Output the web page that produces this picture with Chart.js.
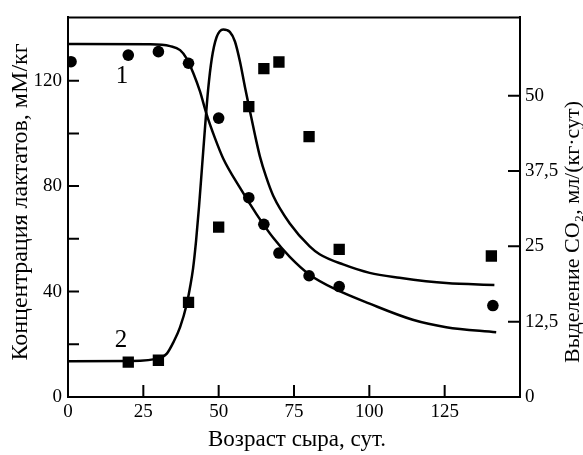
<!DOCTYPE html>
<html><head><meta charset="utf-8">
<script src="https://cdn.jsdelivr.net/npm/chart.js@4"></script>
<style>html,body{margin:0;padding:0;background:#fff}#c{display:block}</style>
</head><body>
<canvas id="c" width="583" height="455"></canvas>
<script>
// Measured points
const lactateDays   = [1, 20, 30, 40, 50, 60, 65, 70, 80, 90, 141];
const lactateValues = [127.2, 129.7, 131, 126.6, 105.8, 75.6, 65.5, 54.6, 46, 41.9, 34.7];
const co2Days   = [20, 30, 40, 50, 60, 65, 70, 80, 90, 140.5];
const co2Values = [5.8, 6.1, 15.7, 28.2, 48.2, 54.5, 55.6, 43.2, 24.5, 23.4];
// Fitted curve 1 (lactate)
const lactateFitDays   = [0, 27.3, 33.9, 37.2, 39.4, 41.6, 43.8, 46.0, 48.8, 51.5, 57.1, 62.6, 68.1, 73.6, 80.2, 89.1, 100.1, 114.4, 125.5, 142.1];
const lactateFitValues = [133.9, 133.8, 133.1, 131.6, 128.4, 122.8, 115.9, 107.2, 98.1, 90.5, 79.3, 69.3, 60.4, 53.2, 46.4, 40.7, 35.4, 29.3, 26.5, 24.6];
// Fitted curve 2 (CO2)
const co2FitDays   = [0, 20.6, 30.6, 32.8, 35.0, 37.2, 39.4, 40.5, 41.5, 42.5, 43.5, 44.5, 45.5, 46.5, 47.7, 49.3, 51.5, 53.7, 55.4, 57.1, 58.7, 60.4, 62.0, 63.7, 65.7, 68.1, 73.6, 80.2, 83.5, 91.3, 100.1, 110.0, 125.5, 141.5];
const co2FitValues = [5.95, 5.98, 6.5, 7.2, 9.1, 11.6, 15.4, 18.2, 21.3, 25.9, 31.7, 38.3, 44.9, 51.0, 56.1, 59.7, 61.0, 60.6, 59.0, 55.6, 51.5, 47.4, 43.6, 39.9, 36.6, 33.4, 28.8, 25.0, 23.7, 22.0, 20.6, 19.8, 18.9, 18.6];
// Ticks
const xTicks = [0, 25, 50, 75, 100, 125];
const leftTicks = [0, 20, 40, 60, 80, 100, 120];
const leftLabels = [0, 40, 80, 120];
const rightTicks = [0, 12.5, 25, 37.5, 50];

const toXY = (xs, ys) => xs.map((x, i) => ({x: x, y: ys[i]}));
const FONT = '"Liberation Serif", "Times New Roman", serif';

const decor = {
  id: 'decor',
  afterDraw(chart) {
    const ctx = chart.ctx;
    const a = chart.chartArea;
    const sx = chart.scales.x, sy = chart.scales.y, sy2 = chart.scales.y2;
    ctx.save();
    ctx.strokeStyle = '#000';
    ctx.lineWidth = 2;
    ctx.beginPath();
    ctx.moveTo(a.left - 1, a.top); ctx.lineTo(a.right + 1, a.top);
    xTicks.forEach(v => { const p = sx.getPixelForValue(v); ctx.moveTo(p, a.bottom); ctx.lineTo(p, a.bottom - 12); });
    leftTicks.forEach(v => { const p = sy.getPixelForValue(v); ctx.moveTo(a.left, p); ctx.lineTo(a.left + 11, p); });
    rightTicks.forEach(v => { const p = sy2.getPixelForValue(v); ctx.moveTo(a.right, p); ctx.lineTo(a.right - 12, p); });
    ctx.stroke();

    ctx.fillStyle = '#000';
    ctx.textAlign = 'center';
    ctx.textBaseline = 'middle';
    ctx.font = '23px ' + FONT;
    ctx.fillText('Возраст сыра, сут.', 297, 440);

    ctx.save();
    ctx.translate(21, 202);
    ctx.rotate(-Math.PI / 2);
    ctx.font = '24px ' + FONT;
    ctx.fillText('Концентрация лактатов, мМ/кг', 0, 0);
    ctx.restore();

    ctx.save();
    ctx.translate(573, 232);
    ctx.rotate(-Math.PI / 2);
    ctx.font = '22px ' + FONT;
    ctx.fillText('Выделение CO₂, мл/(кг·сут)', 0, 0);
    ctx.restore();

    ctx.font = '25px ' + FONT;
    ctx.fillText('1', sx.getPixelForValue(17.9), sy.getPixelForValue(121.5));
    ctx.fillText('2', sx.getPixelForValue(17.6), sy.getPixelForValue(21.5));
    ctx.restore();
  }
};

const tickFont = {family: FONT, size: 19};
new Chart(document.getElementById('c'), {
  type: 'scatter',
  data: {
    datasets: [
      {type: 'line', data: toXY(lactateFitDays, lactateFitValues), yAxisID: 'y', borderColor: '#000', borderWidth: 2.5, pointRadius: 0, fill: false, cubicInterpolationMode: 'monotone'},
      {type: 'line', data: toXY(co2FitDays, co2FitValues), yAxisID: 'y2', borderColor: '#000', borderWidth: 2.5, pointRadius: 0, fill: false, cubicInterpolationMode: 'monotone'},
      {data: toXY(lactateDays, lactateValues), yAxisID: 'y', pointStyle: 'circle', pointRadius: 5.8, backgroundColor: '#000', borderColor: '#000', borderWidth: 0},
      {data: toXY(co2Days, co2Values), yAxisID: 'y2', pointStyle: 'rect', pointRadius: 8, backgroundColor: '#000', borderColor: '#000', borderWidth: 0}
    ]
  },
  options: {
    responsive: false,
    animation: false,
    devicePixelRatio: 1,
    layout: {padding: {top: 15}},
    plugins: {legend: {display: false}, tooltip: {enabled: false}},
    scales: {
      x: {
        type: 'linear', position: 'bottom', min: 0, max: 150,
        afterBuildTicks: s => { s.ticks = xTicks.map(v => ({value: v})); },
        afterFit: s => { s.height = 58; },
        ticks: {font: tickFont, color: '#000', padding: 4, maxRotation: 0, autoSkip: false},
        grid: {display: false, drawTicks: false},
        border: {display: true, color: '#000', width: 2}
      },
      y: {
        type: 'linear', position: 'left', min: 0, max: 144,
        afterBuildTicks: s => { s.ticks = leftTicks.map(v => ({value: v})); },
        afterFit: s => { s.width = 68; },
        ticks: {font: tickFont, color: '#000', padding: 6, autoSkip: false,
          callback: v => leftLabels.includes(v) ? String(v) : ''},
        grid: {display: false, drawTicks: false},
        border: {display: true, color: '#000', width: 2}
      },
      y2: {
        type: 'linear', position: 'right', min: 0, max: 63,
        afterBuildTicks: s => { s.ticks = rightTicks.map(v => ({value: v})); },
        afterFit: s => { s.width = 63; },
        ticks: {font: tickFont, color: '#000', padding: 5, autoSkip: false,
          callback: v => String(v).replace('.', ',')},
        grid: {display: false, drawTicks: false},
        border: {display: true, color: '#000', width: 2}
      }
    }
  },
  plugins: [decor]
});
</script>
</body></html>
